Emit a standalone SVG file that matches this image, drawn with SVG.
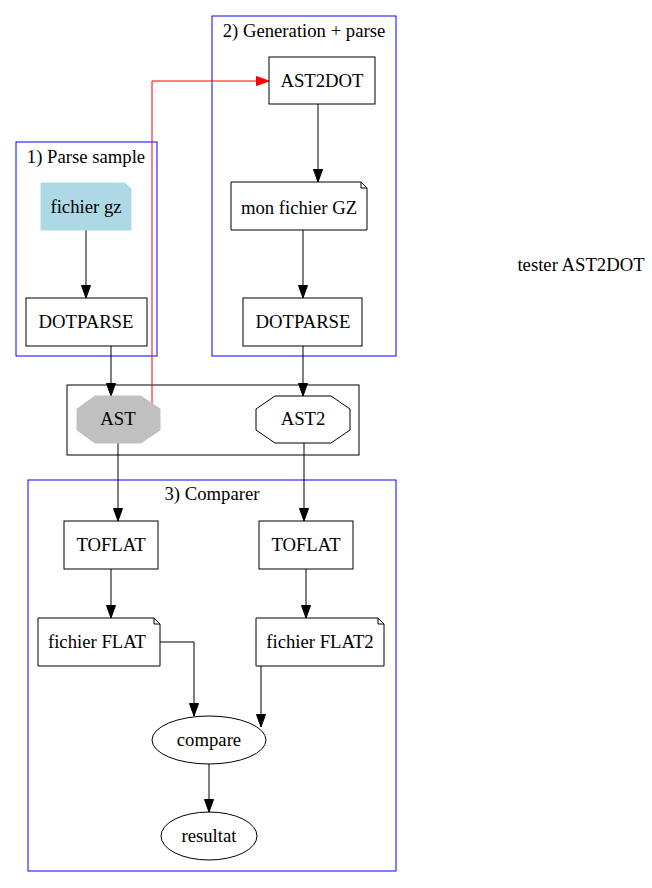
<svg xmlns="http://www.w3.org/2000/svg" width="652" height="888" viewBox="0 0 652 888">
<style>
text{font-family:'Liberation Serif','Times New Roman','DejaVu Serif',serif;font-size:18.7px;text-anchor:middle;fill:#000}
.cl{fill:none;stroke:#0000ff;stroke-width:1}
.nd{fill:#fff;stroke:#000;stroke-width:1}
.e{fill:none;stroke:#000;stroke-width:1}
</style>
<defs>
<marker id="ah" markerWidth="13" markerHeight="10" refX="13" refY="5" orient="auto" markerUnits="userSpaceOnUse"><path d="M0.5,0.5 L13,5 L0.5,9.5 Z" fill="#000" stroke="#000"/></marker>
<marker id="ahr" markerWidth="13" markerHeight="10" refX="13" refY="5" orient="auto" markerUnits="userSpaceOnUse"><path d="M0.5,0.5 L13,5 L0.5,9.5 Z" fill="#f00" stroke="#f00"/></marker>
</defs>
<rect width="652" height="888" fill="#fff"/>
<g id="cluster1"><rect class="cl" x="16" y="142" width="141" height="214"/><text x="86" y="163">1) Parse sample</text></g>
<g id="cluster2"><rect class="cl" x="212" y="16" width="184" height="340"/><text x="304" y="37">2) Generation + parse</text></g>
<g id="clusterAst"><rect x="67" y="385" width="292" height="70" fill="none" stroke="#000"/></g>
<g id="cluster3"><rect class="cl" x="28" y="480" width="368" height="391"/><text x="212" y="500">3) Comparer</text></g>
<g id="connectors">
<path class="e" d="M86,230 V298" marker-end="url(#ah)"/>
<path class="e" d="M318,104 V182" marker-end="url(#ah)"/>
<path class="e" d="M303,230 V298" marker-end="url(#ah)"/>
<path class="e" d="M111,346 V396" marker-end="url(#ah)"/>
<path class="e" d="M303,346 V396" marker-end="url(#ah)"/>
<path d="M152,407 V81 H269" fill="none" stroke="#f00" marker-end="url(#ahr)"/>
<path class="e" d="M118,443 V521" marker-end="url(#ah)"/>
<path class="e" d="M304,443 V521" marker-end="url(#ah)"/>
<path class="e" d="M111,569 V618" marker-end="url(#ah)"/>
<path class="e" d="M306,569 V618" marker-end="url(#ah)"/>
<path class="e" d="M160,642 H194 V716" marker-end="url(#ah)"/>
<path class="e" d="M261,666 V727" marker-end="url(#ah)"/>
<path class="e" d="M209,764 V812" marker-end="url(#ah)"/>
</g>
<g id="fichiergz"><path d="M41,183 H125 L131,189 V230 H41 Z" fill="#add8e6" stroke="#add8e6"/><text x="86" y="213">fichier gz</text></g>
<g id="dotparse1"><rect class="nd" x="26" y="298" width="121" height="48"/><text x="86" y="328">DOTPARSE</text></g>
<g id="ast2dot"><rect class="nd" x="269" y="57" width="106" height="47"/><text x="322" y="87">AST2DOT</text></g>
<g id="monfichiergz"><path class="nd" d="M231,182 H361 L367,188 V230 H231 Z"/><path class="e" d="M361,182 V188 H367"/><text x="299" y="214">mon fichier GZ</text></g>
<g id="dotparse2"><rect class="nd" x="243" y="298" width="119" height="48"/><text x="303" y="328">DOTPARSE</text></g>
<g id="ast"><polygon points="95,396 141,396 160,409 160,430 141,443 95,443 77,430 77,409" fill="#c0c0c0" stroke="#c0c0c0"/><text x="118" y="425">AST</text></g>
<g id="ast2"><polygon class="nd" points="275,396 331,396 350,409 350,430 331,443 275,443 256,430 256,409"/><text x="303" y="425">AST2</text></g>
<g id="toflat1"><rect class="nd" x="64" y="521" width="94" height="48"/><text x="111" y="551">TOFLAT</text></g>
<g id="toflat2"><rect class="nd" x="259" y="521" width="94" height="48"/><text x="306" y="551">TOFLAT</text></g>
<g id="fichierflat"><path class="nd" d="M38,618 H154 L160,624 V666 H38 Z"/><path class="e" d="M154,618 V624 H160"/><text x="97" y="648">fichier FLAT</text></g>
<g id="fichierflat2"><path class="nd" d="M256,618 H378 L384,624 V666 H256 Z"/><path class="e" d="M378,618 V624 H384"/><text x="320" y="648">fichier FLAT2</text></g>
<g id="compare"><ellipse class="nd" cx="209" cy="740" rx="57" ry="24"/><text x="209" y="746">compare</text></g>
<g id="resultat"><ellipse class="nd" cx="209" cy="836" rx="48" ry="24"/><text x="209" y="842">resultat</text></g>
<g id="tester"><text x="581" y="271">tester AST2DOT</text></g>
</svg>
